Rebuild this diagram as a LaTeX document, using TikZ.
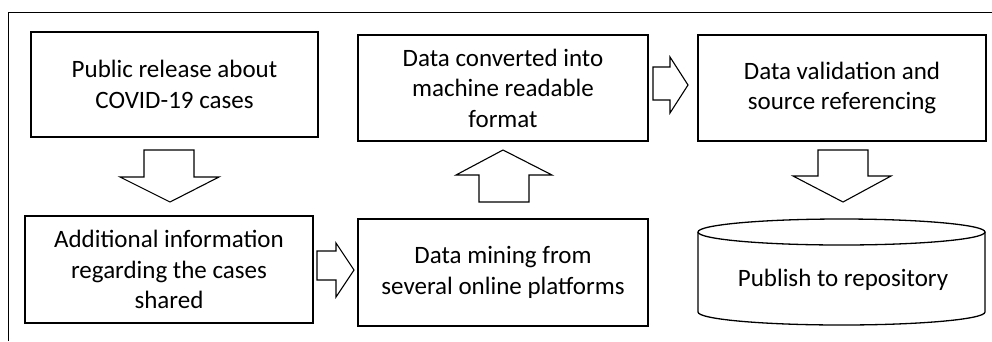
\documentclass[tikz,border=0pt]{standalone}
\usepackage{fontspec}
\setmainfont{Carlito}
\begin{document}
\begin{tikzpicture}[x=1pt,y=-1pt,
  box/.style={draw=black,line width=1.3pt,fill=white,align=center,inner sep=0pt,
    font=\fontsize{25}{30.5}\selectfont},
  blockarrow/.style={draw=black,line width=1.1pt,fill=white,line join=miter},
  frame/.style={draw=black,line width=1pt}]
\useasboundingbox (0,0) rectangle (992,341);
\draw[frame] (8,341) -- (8,12) -- (992,12);
% boxes
\node[box,minimum width=287pt,minimum height=105pt] (pub) at (174.5,84.5) {Public release about\\COVID-19 cases};
\node[box,minimum width=288pt,minimum height=107pt] (add) at (169,269.5) {Additional information\\regarding the cases\\shared};
\node[box,minimum width=290pt,minimum height=107pt] (mine) at (503,272.5) {Data mining from\\several online platforms};
\node[box,minimum width=290pt,minimum height=106pt] (conv) at (503,88) {Data converted into\\machine readable\\format};
\node[box,minimum width=288pt,minimum height=106pt] (val) at (842,88) {Data validation and\\source referencing};
% cylinder
\draw[line width=1.3pt,fill=white] (698,232) -- (698,312)
  arc[start angle=180,end angle=360,x radius=143.5pt,y radius=13pt] -- (985,232);
\draw[line width=1.3pt] (841.5,232) ellipse [x radius=143.5pt,y radius=13pt];
\node[font=\fontsize{25}{30.5}\selectfont,inner sep=0pt] (repo) at (843,280) {Publish to repository};
% block arrows
\draw[blockarrow] (144,150) -- (194,150) -- (194,177) -- (219,177) -- (170,202) -- (120,177) -- (144,177) -- cycle;
\draw[blockarrow] (317,251) -- (336,251) -- (336,243) -- (354,270) -- (336,297) -- (336,280) -- (317,280) -- cycle;
\draw[blockarrow] (479,202) -- (529,202) -- (529,175) -- (552,175) -- (503,150) -- (456,175) -- (479,175) -- cycle;
\draw[blockarrow] (653,67) -- (670,67) -- (670,57) -- (688,85) -- (670,113) -- (670,100) -- (653,100) -- cycle;
\draw[blockarrow] (818,150) -- (868,150) -- (868,176) -- (891,176) -- (843,202) -- (793,176) -- (818,176) -- cycle;
\end{tikzpicture}
\end{document}
